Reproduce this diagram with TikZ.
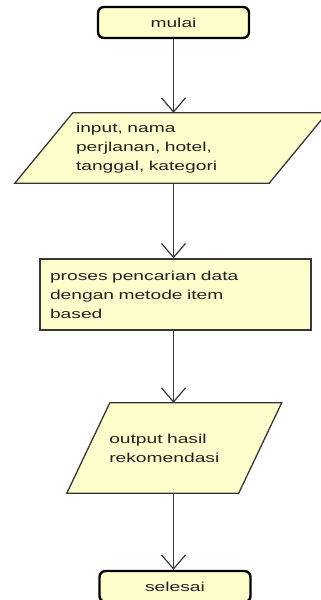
\documentclass[tikz,border=0pt]{standalone}
\usepackage{fontspec}
\setmainfont{Liberation Sans}[FakeStretch=1.48]
\usetikzlibrary{arrows.meta,backgrounds}
\definecolor{kuning}{RGB}{255,253,204}
\definecolor{garis}{RGB}{55,55,55}
\definecolor{tulisan}{RGB}{35,35,35}

\begin{document}
\begin{tikzpicture}[x=1pt,y=-1pt,
  huruf/.style={font=\fontsize{13}{19}\selectfont, text=tulisan},
  terminal/.style={huruf, draw=black, line width=2.4pt, rounded corners=6pt, fill=kuning,
                   minimum width=151pt, minimum height=31pt, inner sep=0pt},
  masukan/.style={huruf, inner sep=0pt, align=left},
  proses/.style={huruf, draw=garis, line width=1.3pt, fill=kuning, inner sep=0pt, align=left},
  bingkai/.style={draw=garis, line width=1.3pt, fill=kuning},
  panah/.style={draw=garis, line width=1.2pt, -{Straight Barb[length=14pt,width=24pt]}}]

\useasboundingbox (0,0) rectangle (321,600);

%mulai
\node (mulai) at (173.5,22.5) [terminal] {mulai};

%input
\node (input) at (171,148) [masukan, minimum width=254pt, minimum height=70pt, text width=190pt]
   {input, nama\\perjlanan, hotel,\\tanggal, kategori};

%proses
\node (proses) at (175.5,294.5) [proses, minimum width=271pt, minimum height=71pt, text width=251pt]
   {proses pencarian data\\dengan metode item\\based};

%output
\node (output) at (174.25,448) [masukan, minimum width=171.5pt, minimum height=90pt, text width=130pt]
   {output hasil\\rekomendasi};

%selesai
\node (selesai) at (175,586.5) [terminal] {selesai};

%jajaran genjang
\begin{pgfonlayer}{background}
\draw [bingkai] ([xshift=29pt]input.north west) -- ([xshift=29pt]input.north east)
   -- ([xshift=-29pt]input.south east) -- ([xshift=-29pt]input.south west) -- cycle;
\draw [bingkai] ([xshift=21.5pt]output.north west) -- ([xshift=21.5pt]output.north east)
   -- ([xshift=-21.5pt]output.south east) -- ([xshift=-21.5pt]output.south west) -- cycle;
\end{pgfonlayer}

%panah
\draw [panah] (mulai.south) -- (mulai.south |- input.north);
\draw [panah] (input.south -| mulai.south) -- (mulai.south |- proses.north);
\draw [panah] (proses.south -| mulai.south) -- (mulai.south |- output.north);
\draw [panah] (output.south -| mulai.south) -- (mulai.south |- selesai.north);

\end{tikzpicture}
\end{document}
